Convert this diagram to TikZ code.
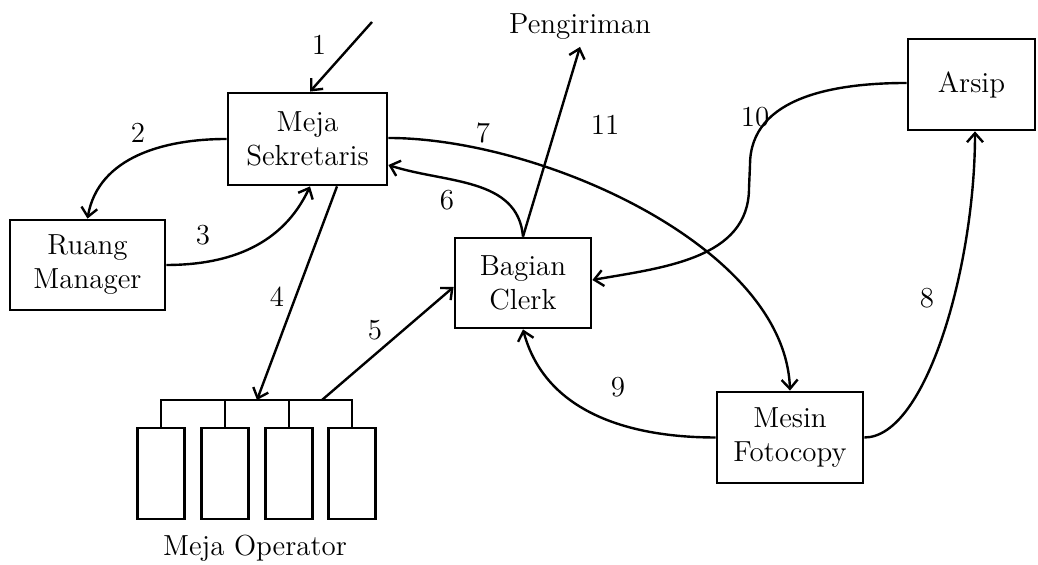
\documentclass[tikz,border=0pt]{standalone}
\usepackage{tikz}
\usetikzlibrary{arrows.meta,positioning,calc}

\begin{document}
\begin{tikzpicture}[x=0.5pt, y=0.5pt]
    % Define styles
    \tikzset{
        every node/.style={font=\fontsize{14.5}{17}\selectfont},
        block/.style={draw, rectangle, line width=1.4pt, align=center, inner sep=0pt},
        desk/.style={draw, rectangle, line width=1.4pt, minimum width=23.5pt, minimum height=45.5pt, inner sep=0pt},
        arrow/.style={-{Straight Barb[length=4.5pt,width=8pt]}, line width=1.2pt},
        line/.style={line width=1.2pt}
    }
    \useasboundingbox (0,0) rectangle (1038,565);

    % Place nodes
    \node[block, minimum width=79.5pt, minimum height=46pt] (meja_sek) at (307.5,426) {Meja\\Sekretaris};
    \node[block, minimum width=77.5pt, minimum height=45pt] (ruang_mgr) at (87.5,300) {Ruang\\Manager};
    \node[block, minimum width=68pt, minimum height=45pt] (bagian_clerk) at (523,282) {Bagian\\Clerk};
    \node[block, minimum width=63.5pt, minimum height=45.5pt] (arsip) at (971.5,480.5) {Arsip};
    \node[block, minimum width=73pt, minimum height=45.5pt] (mesin_fc) at (790,127.5) {Mesin\\Fotocopy};
    \node (pengiriman) at (580,538) {Pengiriman};
    \node (op_label) at (255,17) {Meja Operator};
    \foreach \i/\x in {1/161,2/225,3/289,4/352}
        \node[desk] (op\i) at (\x,91.5) {};

    \coordinate (in1) at (372,543);
    \coordinate (bar_l) at (161,165);
    \coordinate (bar4) at (257,165);
    \coordinate (bar5) at (322,165);
    \coordinate (c10a) at (750,400);
    \coordinate (c10b) at (749,377);

    % Desks of the operators
    \draw[line] (op1.north) |- (op4.north |- bar_l) -- (op4.north);
    \draw[line] (op2.north) -- (op2.north |- bar_l);
    \draw[line] (op3.north) -- (op3.north |- bar_l);

    % Draw arrows
    \draw[arrow] (in1) -- ([xshift=1.25pt]meja_sek.north);
    \draw[arrow] (meja_sek.west) to[out=180,in=80] (ruang_mgr.north);
    \draw[arrow] (ruang_mgr.east) to[out=0,in=-115] ([xshift=1.25pt]meja_sek.south);
    \draw[arrow] ([xshift=14.75pt]meja_sek.south) -- (bar4);
    \draw[arrow] (bar5) -- ([yshift=-2pt]bagian_clerk.west);
    \draw[arrow] (bagian_clerk.north) to[out=95,in=-18] ([yshift=-13pt]meja_sek.east);
    \draw[arrow] ([yshift=0.5pt]meja_sek.east) to[out=0,in=92,out distance=76pt,in distance=72pt] (mesin_fc.north);
    \draw[arrow] (mesin_fc.east) to[out=0,in=-90,out distance=31pt,in distance=67pt] ([xshift=1.75pt]arsip.south);
    \draw[arrow] (mesin_fc.west) to[out=180,in=-75] (bagian_clerk.south);
    \draw[arrow] ([yshift=0.75pt]arsip.west) to[out=180,in=90] (c10a) -- (c10b) to[out=-90,in=10] ([yshift=1.5pt]bagian_clerk.east);
    \draw[arrow] (bagian_clerk.north) -- (pengiriman.south);

    % Numbers of the flows
    \node (n1) at (319,520) {1};
    \node (n2) at (138,432) {2};
    \node (n3) at (203,330) {3};
    \node (n4) at (277,268) {4};
    \node (n5) at (375,235) {5};
    \node (n6) at (447,365) {6};
    \node (n7) at (483,432) {7};
    \node (n8) at (927,267) {8};
    \node (n9) at (618,178) {9};
    \node (n10) at (755,448) {10};
    \node (n11) at (605,440) {11};
\end{tikzpicture}
\end{document}
